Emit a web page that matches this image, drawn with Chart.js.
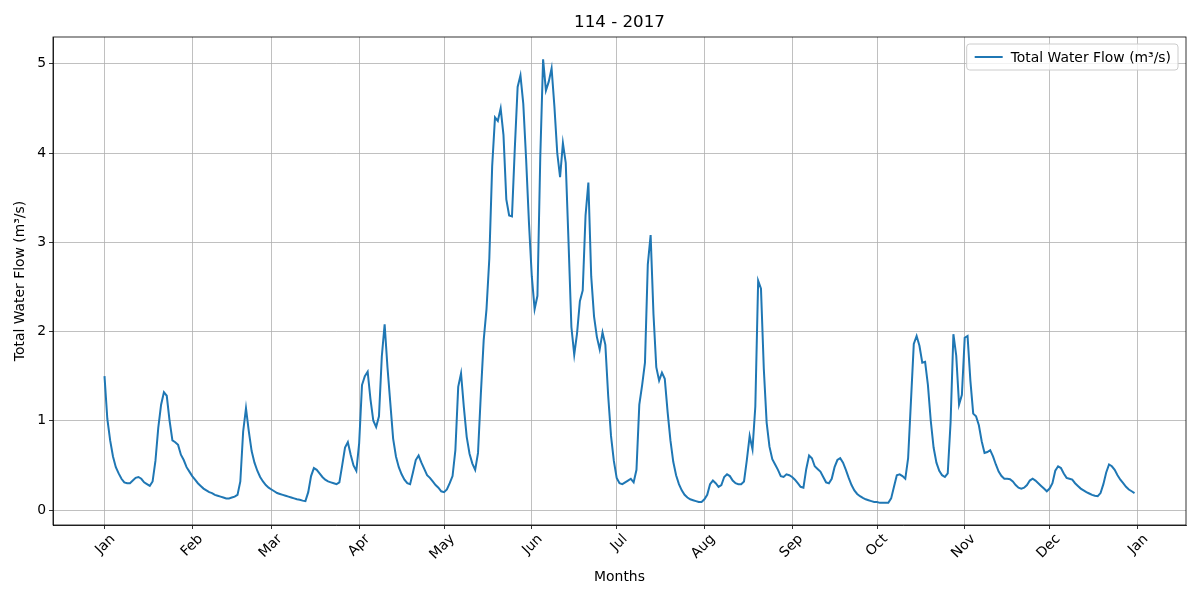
<!DOCTYPE html>
<html>
<head>
<meta charset="utf-8">
<script src="https://cdn.jsdelivr.net/npm/chart.js@4.4.1/dist/chart.umd.min.js"></script>
<style>
  html, body { margin: 0; padding: 0; background: #fff; }
</style>
</head>
<body>
<canvas id="flowChart" width="1200" height="600"></canvas>
<script>
// Daily total water flow (m³/s), station 114, year 2017 - one array per month
const janFlow = [1.50, 1.02, 0.78, 0.60, 0.48, 0.41, 0.35, 0.31, 0.30, 0.30, 0.33, 0.36, 0.37, 0.35, 0.31, 0.29, 0.27, 0.32, 0.55, 0.92, 1.18, 1.32, 1.28, 1.00, 0.78, 0.76, 0.73, 0.62, 0.56, 0.48, 0.43];
const febFlow = [0.38, 0.34, 0.30, 0.27, 0.24, 0.22, 0.20, 0.19, 0.17, 0.16, 0.15, 0.14, 0.13, 0.13, 0.14, 0.15, 0.17, 0.32, 0.88, 1.14, 0.88, 0.66, 0.53, 0.44, 0.37, 0.32, 0.28, 0.25];
const marFlow = [0.23, 0.21, 0.19, 0.18, 0.17, 0.16, 0.15, 0.14, 0.13, 0.12, 0.115, 0.105, 0.10, 0.20, 0.38, 0.47, 0.45, 0.41, 0.37, 0.34, 0.32, 0.31, 0.30, 0.29, 0.31, 0.50, 0.70, 0.76, 0.62, 0.50, 0.44];
const aprFlow = [0.75, 1.40, 1.50, 1.55, 1.24, 1.00, 0.93, 1.05, 1.72, 2.08, 1.60, 1.20, 0.80, 0.60, 0.48, 0.40, 0.34, 0.30, 0.29, 0.42, 0.56, 0.61, 0.53, 0.46, 0.39, 0.36, 0.32, 0.28, 0.25, 0.21];
const mayFlow = [0.20, 0.23, 0.30, 0.38, 0.67, 1.38, 1.53, 1.15, 0.82, 0.63, 0.52, 0.45, 0.64, 1.30, 1.90, 2.25, 2.82, 3.85, 4.40, 4.36, 4.50, 4.20, 3.48, 3.30, 3.29, 4.05, 4.74, 4.87, 4.55, 3.93, 3.22];
const junFlow = [2.62, 2.25, 2.40, 3.95, 5.05, 4.70, 4.80, 4.95, 4.52, 4.00, 3.73, 4.11, 3.89, 2.99, 2.05, 1.74, 1.98, 2.34, 2.46, 3.30, 3.67, 2.62, 2.17, 1.94, 1.80, 1.99, 1.85, 1.28, 0.83, 0.55];
const julFlow = [0.36, 0.30, 0.29, 0.31, 0.33, 0.35, 0.31, 0.45, 1.18, 1.40, 1.65, 2.75, 3.08, 2.20, 1.60, 1.45, 1.54, 1.47, 1.10, 0.78, 0.54, 0.39, 0.29, 0.22, 0.17, 0.14, 0.12, 0.11, 0.10, 0.09, 0.09];
const augFlow = [0.12, 0.17, 0.29, 0.33, 0.30, 0.26, 0.28, 0.37, 0.40, 0.38, 0.33, 0.30, 0.29, 0.29, 0.32, 0.56, 0.83, 0.68, 1.16, 2.57, 2.48, 1.58, 0.98, 0.71, 0.57, 0.51, 0.45, 0.38, 0.37, 0.40, 0.39];
const sepFlow = [0.37, 0.34, 0.30, 0.26, 0.25, 0.46, 0.61, 0.58, 0.49, 0.46, 0.43, 0.37, 0.31, 0.30, 0.35, 0.48, 0.56, 0.58, 0.53, 0.45, 0.36, 0.28, 0.22, 0.18, 0.155, 0.135, 0.12, 0.11, 0.10, 0.09];
const octFlow = [0.09, 0.08, 0.08, 0.08, 0.08, 0.13, 0.26, 0.39, 0.40, 0.38, 0.35, 0.58, 1.22, 1.86, 1.95, 1.84, 1.65, 1.66, 1.40, 1.00, 0.70, 0.53, 0.44, 0.39, 0.37, 0.41, 0.98, 1.97, 1.73, 1.18, 1.29];
const novFlow = [1.93, 1.95, 1.45, 1.08, 1.05, 0.95, 0.77, 0.64, 0.65, 0.67, 0.60, 0.51, 0.43, 0.38, 0.35, 0.35, 0.345, 0.32, 0.28, 0.25, 0.24, 0.25, 0.28, 0.33, 0.35, 0.33, 0.30, 0.27, 0.24, 0.21];
const decFlow = [0.24, 0.30, 0.44, 0.49, 0.47, 0.41, 0.36, 0.35, 0.34, 0.30, 0.27, 0.24, 0.22, 0.20, 0.185, 0.17, 0.16, 0.155, 0.19, 0.29, 0.42, 0.51, 0.49, 0.45, 0.39, 0.34, 0.30, 0.26, 0.23, 0.21, 0.19];

// x ticks: first day of each month (day index from Jan 1), last one is Jan 1 of next year
const monthStarts = [0, 31, 59, 90, 120, 151, 181, 212, 243, 273, 304, 334, 365];
const monthNames = ['Jan', 'Feb', 'Mar', 'Apr', 'May', 'Jun', 'Jul', 'Aug', 'Sep', 'Oct', 'Nov', 'Dec', 'Jan'];
const yTicks = [0, 1, 2, 3, 4, 5];

const chartTitle = '114 - 2017';
const seriesLabel = 'Total Water Flow (m³/s)';

const flow = [].concat(janFlow, febFlow, marFlow, aprFlow, mayFlow, junFlow,
                       julFlow, augFlow, sepFlow, octFlow, novFlow, decFlow);
const points = flow.map((v, i) => ({ x: i, y: v }));

const lineColor = '#1f77b4';
const font = { family: '"DejaVu Sans", sans-serif', size: 13.9 };

// axes frame, title and the in-plot legend (matplotlib style)
const mplDecor = {
    id: 'mplDecor',
    afterDraw(chart) {
        const { ctx, chartArea: a } = chart;
        ctx.save();
        ctx.strokeStyle = '#000';
        ctx.lineWidth = 0.8;
        ctx.strokeRect(a.left, a.top, a.right - a.left, a.bottom - a.top);

        ctx.fillStyle = '#000';
        ctx.font = '16.7px "DejaVu Sans", sans-serif';
        ctx.textAlign = 'center';
        ctx.textBaseline = 'middle';
        ctx.fillText(chartTitle, (a.left + a.right) / 2, a.top - 14);

        // legend box
        ctx.font = '13.9px "DejaVu Sans", sans-serif';
        const label = chart.data.datasets[0].label;
        const tw = ctx.measureText(label).width;
        const bw = 44 + tw + 7, bh = 26;
        const bx = a.right - 8 - bw, by = a.top + 7;
        ctx.beginPath();
        ctx.roundRect(bx, by, bw, bh, 3);
        ctx.fillStyle = 'rgba(255,255,255,0.8)';
        ctx.fill();
        ctx.strokeStyle = '#cccccc';
        ctx.lineWidth = 1;
        ctx.stroke();
        ctx.beginPath();
        ctx.moveTo(bx + 8, by + bh / 2);
        ctx.lineTo(bx + 36, by + bh / 2);
        ctx.strokeStyle = lineColor;
        ctx.lineWidth = 2;
        ctx.stroke();
        ctx.fillStyle = '#000';
        ctx.textAlign = 'left';
        ctx.fillText(label, bx + 44, by + bh / 2 + 1);
        ctx.restore();
    }
};

const ctx = document.getElementById('flowChart').getContext('2d');
const flowChart = new Chart(ctx, {
    type: 'line',
    data: {
        datasets: [{
            label: seriesLabel,
            data: points,
            borderColor: lineColor,
            backgroundColor: lineColor,
            borderWidth: 2,
            pointRadius: 0,
            tension: 0,
            fill: false
        }]
    },
    options: {
        responsive: false,
        animation: false,
        devicePixelRatio: 1,
        layout: { padding: { top: 37, right: 14, left: 0, bottom: 0 } },
        plugins: {
            legend: { display: false },
            tooltip: { enabled: false }
        },
        scales: {
            x: {
                type: 'linear',
                min: -18.2,
                max: 382.2,
                afterBuildTicks: s => { s.ticks = monthStarts.map(v => ({ value: v })); },
                afterFit: s => { s.height = 75; },
                ticks: {
                    autoSkip: false,
                    minRotation: 45,
                    maxRotation: 45,
                    labelOffset: 8.5,
                    padding: 2,
                    color: '#000',
                    font: font,
                    callback: (v, i) => monthNames[i]
                },
                grid: { color: '#b0b0b0', lineWidth: 0.8, tickColor: '#000', tickLength: 4 },
                border: { color: '#000', width: 0.8 },
                title: { display: true, text: 'Months', color: '#000', font: font, padding: { top: 0, bottom: 14.7 } }
            },
            y: {
                min: -0.168,
                max: 5.30,
                afterBuildTicks: s => { s.ticks = yTicks.map(v => ({ value: v })); },
                afterFit: s => { s.width = 53; },
                ticks: { color: '#000', font: font, padding: 3 },
                grid: { color: '#b0b0b0', lineWidth: 0.8, tickColor: '#000', tickLength: 4 },
                border: { color: '#000', width: 0.8 },
                title: { display: true, text: seriesLabel, color: '#000', font: font, padding: { top: 11.7, bottom: 0 } }
            }
        }
    },
    plugins: [mplDecor]
});
</script>
</body>
</html>
